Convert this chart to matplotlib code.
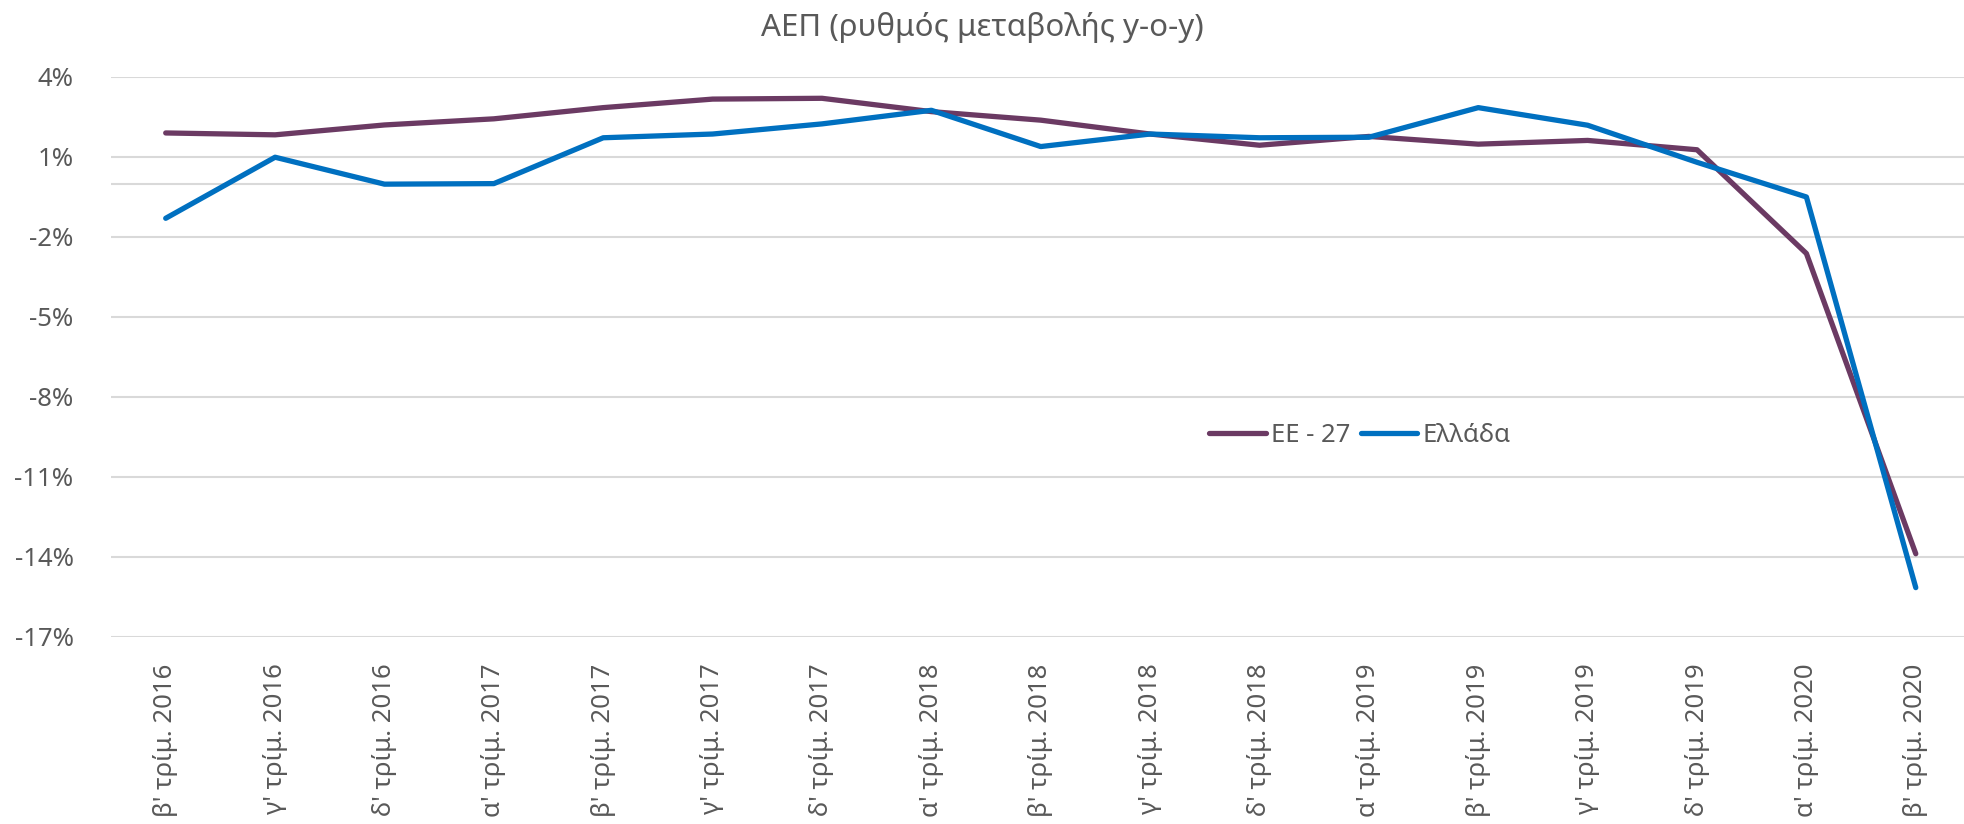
import matplotlib
matplotlib.use("Agg")
import matplotlib.pyplot as plt
import numpy as np

plt.rcParams['font.family'] = ['Noto Sans', 'DejaVu Sans']

quarters = ["β' τρίμ. 2016", "γ' τρίμ. 2016", "δ' τρίμ. 2016", "α' τρίμ. 2017",
            "β' τρίμ. 2017", "γ' τρίμ. 2017", "δ' τρίμ. 2017", "α' τρίμ. 2018",
            "β' τρίμ. 2018", "γ' τρίμ. 2018", "δ' τρίμ. 2018", "α' τρίμ. 2019",
            "β' τρίμ. 2019", "γ' τρίμ. 2019", "δ' τρίμ. 2019", "α' τρίμ. 2020",
            "β' τρίμ. 2020"]
eu27 = [1.9, 1.83, 2.2, 2.43, 2.85, 3.17, 3.2, 2.7, 2.38, 1.86, 1.44, 1.77,
        1.48, 1.62, 1.27, -2.62, -13.88]
greece = [-1.3, 0.99, -0.02, 0.0, 1.72, 1.86, 2.24, 2.75, 1.39, 1.86, 1.72, 1.74,
          2.85, 2.19, 0.8, -0.5, -15.15]
yticks = [4, 1, -2, -5, -8, -11, -14, -17]

text_color = '#595959'
grid_color = '#d9d9d9'

fig = plt.figure(figsize=(19.65, 8.24), dpi=100)
ax = fig.add_axes([0.0565, 0.227, 0.9435, 0.6796])

x = np.arange(len(quarters))
ax.plot(x, eu27, color='#6b3a63', lw=3.8, solid_capstyle='round',
        solid_joinstyle='round', label='ΕΕ - 27', zorder=3)
ax.plot(x, greece, color='#0070c0', lw=3.8, solid_capstyle='round',
        solid_joinstyle='round', label='Ελλάδα', zorder=4)

ax.set_ylim(-17, 4)
ax.set_xlim(-0.5, 16.45)
ax.set_yticks(yticks)
ax.set_yticklabels([f'{v}%' for v in yticks])
for v in yticks:
    ax.axhline(v, color=grid_color, lw=1.5, zorder=1)
# zero line of the category axis
ax.axhline(0, color=grid_color, lw=1.5, zorder=1)

ax.set_xticks(x)
ax.set_xticklabels(quarters, rotation=90, va='top', ha='center')
ax.tick_params(axis='both', length=0, colors=text_color, labelsize=18.5)
ax.tick_params(axis='x', pad=19)
ax.tick_params(axis='y', pad=27)
for s in ax.spines.values():
    s.set_visible(False)

fig.text(0.5, 0.967, 'ΑΕΠ (ρυθμός μεταβολής y-o-y)', ha='center', va='center',
         fontsize=22.5, color=text_color)

ax.legend(loc='center', bbox_to_anchor=(1360 / 1965, 1 - 435 / 824),
          bbox_transform=fig.transFigure, ncol=2, frameon=False,
          fontsize=18.5, labelcolor=text_color, handlelength=2.2,
          handletextpad=0.2, columnspacing=0.4)

fig.savefig('out.png', dpi=100)
